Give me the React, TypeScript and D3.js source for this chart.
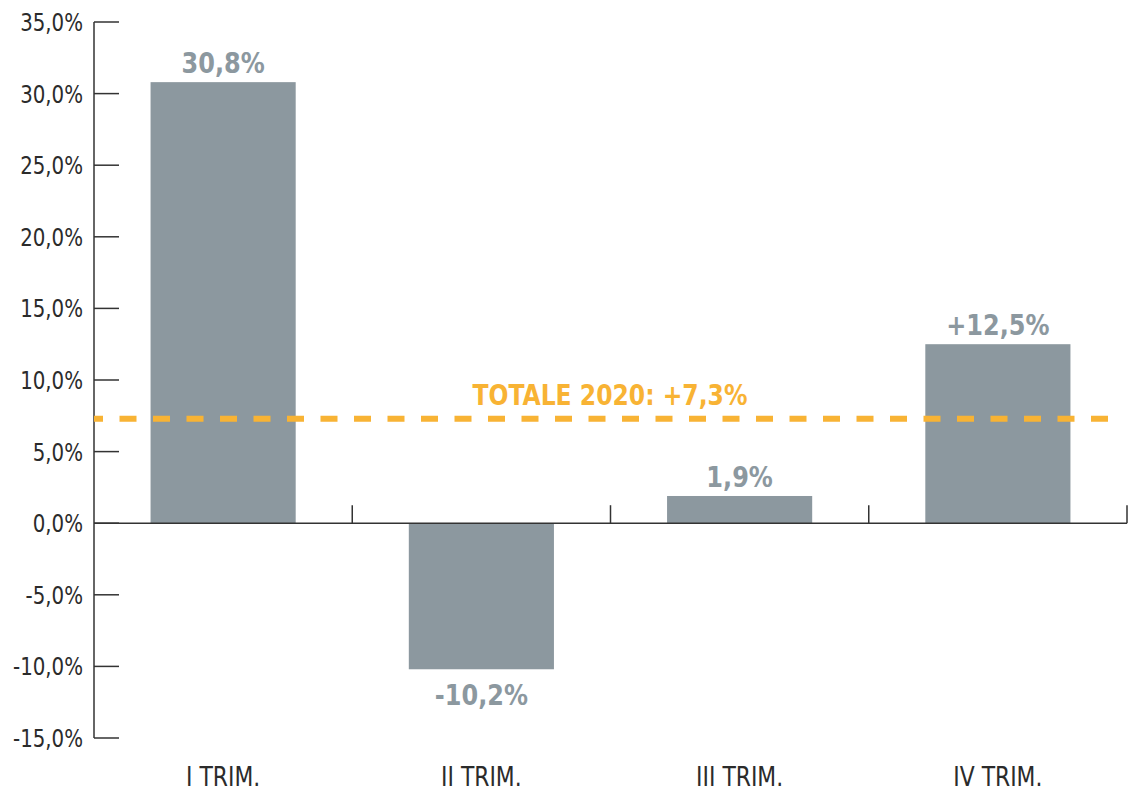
import React from "react";
import * as d3 from "d3";

const categories = ["I TRIM.", "II TRIM.", "III TRIM.", "IV TRIM."];
const values = [30.8, -10.2, 1.9, 12.5];
const valueLabels = ["30,8%", "-10,2%", "1,9%", "+12,5%"];
const yTicks = [35, 30, 25, 20, 15, 10, 5, 0, -5, -10, -15];
const totalValue = 7.3;
const totalLabel = "TOTALE 2020: +7,3%";

const FONT = "'DejaVu Sans Condensed', 'Liberation Sans Narrow', sans-serif";

function SText(props: { x: number; y: number; sx: number; anchor: string; size: number; bold?: boolean; fill: string; children: React.ReactNode }) {
  return (
    <g transform={`translate(${props.x},${props.y}) scale(${props.sx},1)`}>
      <text x={0} y={0} textAnchor={props.anchor} fontFamily={FONT} fontStretch="condensed"
        fontWeight={props.bold ? "bold" : "normal"} fontSize={props.size} fill={props.fill}>{props.children}</text>
    </g>
  );
}

export default function App() {
  const W = 1130, H = 791;
  const x0 = 94, x1 = 1127;
  const y = d3.scaleLinear().domain([-15, 35]).range([738, 22]);
  const x = d3.scaleBand<string>().domain(categories).range([x0, x1]).paddingInner(0.438).paddingOuter(0.219);
  const bandStep = (x1 - x0) / categories.length;
  const fmt = (v: number) => v.toFixed(1).replace(".", ",") + "%";
  const gray = "#8c989f";
  const orange = "#f8b334";
  const dark = "#2b2b2b";
  return (
    <svg width={W} height={H} style={{ position: "absolute", left: 0, top: 0, background: "#fff" }}>
      {values.map((v, i) => (
        <rect key={i} x={x(categories[i])} width={x.bandwidth()}
          y={y(Math.max(0, v))} height={Math.abs(y(v) - y(0))} fill={gray} />
      ))}
      <line x1={x0} x2={x0} y1={y(35)} y2={y(-15)} stroke="#333" strokeWidth={1.5} />
      {yTicks.map((t) => (
        <g key={t}>
          <line x1={x0} x2={x0 + 25} y1={y(t)} y2={y(t)} stroke="#333" strokeWidth={1.5} />
          <SText x={83} y={y(t) + 9} sx={0.88} anchor="end" size={25} fill={dark}>{fmt(t)}</SText>
        </g>
      ))}
      <line x1={x0} x2={x1} y1={y(0)} y2={y(0)} stroke="#333" strokeWidth={1.5} />
      {categories.map((c, i) => (
        <line key={c} x1={x0 + bandStep * (i + 1)} x2={x0 + bandStep * (i + 1)} y1={y(0)} y2={y(0) - 18} stroke="#333" strokeWidth={1.5} />
      ))}
      {categories.map((c) => (
        <SText key={c} x={(x(c) as number) + x.bandwidth() / 2} y={786} sx={0.9} anchor="middle" size={27} fill={dark}>{c}</SText>
      ))}
      {values.map((v, i) => (
        <SText key={i} x={(x(categories[i]) as number) + x.bandwidth() / 2}
          y={v >= 0 ? y(v) - 9 : y(v) + 36} sx={0.92} anchor="middle" bold size={29} fill={gray}>{valueLabels[i]}</SText>
      ))}
      <line x1={x0} x2={1116} y1={y(totalValue)} y2={y(totalValue)} stroke={orange} strokeWidth={6} strokeDasharray="17,16.5" strokeDashoffset={8} />
      <SText x={610} y={y(totalValue) - 14} sx={0.9} anchor="middle" bold size={29} fill={orange}>{totalLabel}</SText>
    </svg>
  );
}
